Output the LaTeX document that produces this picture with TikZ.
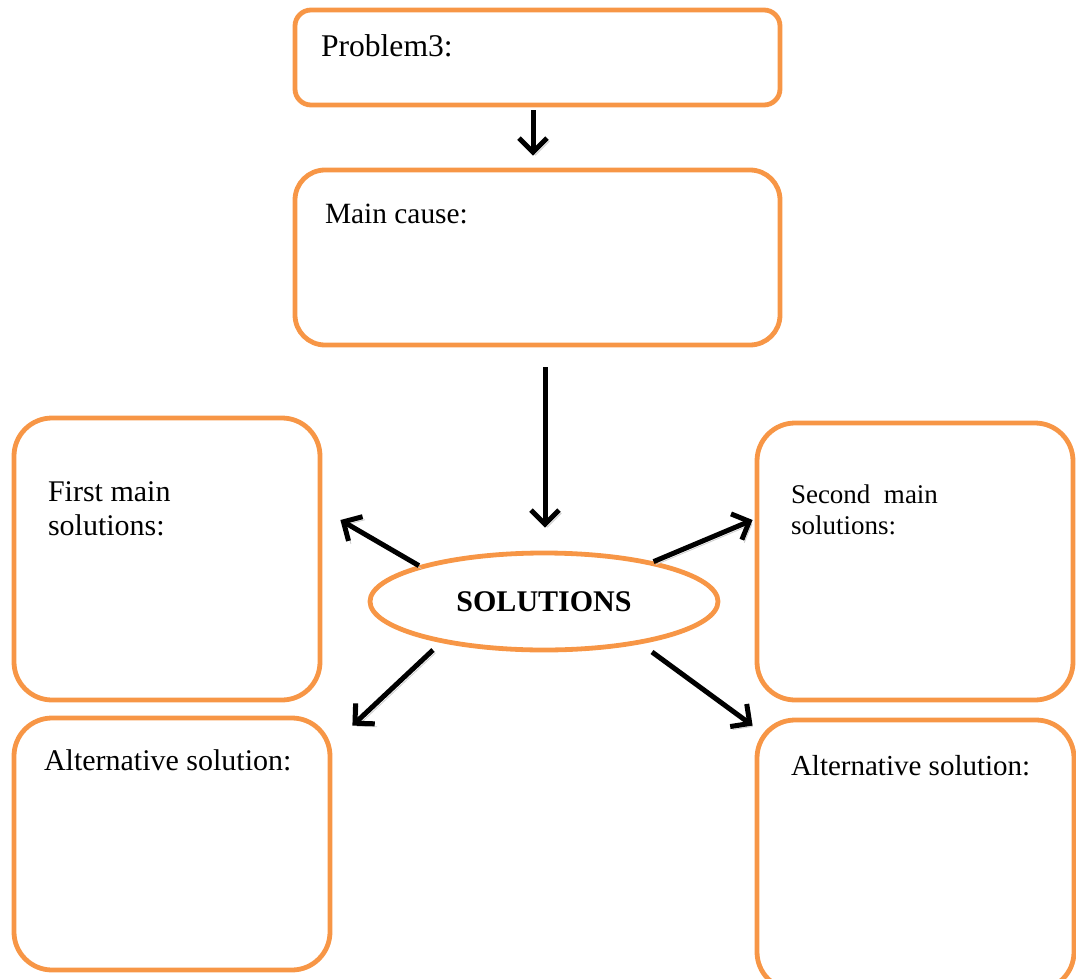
\documentclass[tikz,border=0pt]{standalone}
\usepackage{fontspec}
\setmainfont{Liberation Serif}
\usetikzlibrary{calc,arrows.meta,shapes.geometric}
\definecolor{sol-orange}{HTML}{F79646}

\tikzset{
    box/.style={draw=sol-orange, line width=2.4pt, inner sep=0pt},
    txt/.style={anchor=base west, inner sep=0pt, align=left,
        font=\fontsize{15}{17}\selectfont},
    arr/.style={-{Straight Barb[length=7pt,width=14pt]}, line width=2.5pt,
        preaction={draw=black!20, transform canvas={shift={(1.2pt,-1.5pt)}}}}
}

\begin{document}
\begin{tikzpicture}[x=0.5pt, y=-0.5pt]
    \useasboundingbox (0,0) rectangle (1076,979);
    \node[box, rounded corners=8pt, minimum width=242.5pt, minimum height=47.5pt] (prob) at (537.5,57.5) {};
    \node[box, rounded corners=15pt, minimum width=242.5pt, minimum height=87.5pt] (cause) at (537.5,257.5) {};
    \node[box, rounded corners=19pt, minimum width=153pt, minimum height=141pt] (first) at (167,559) {};
    \node[box, rounded corners=19pt, minimum width=158pt, minimum height=126pt] (altL) at (172,844) {};
    \node[box, rounded corners=19pt, minimum width=158pt, minimum height=138.5pt] (second) at (915,561.5) {};
    \node[box, rounded corners=19pt, minimum width=158.5pt, minimum height=135pt] (altR) at (915.5,855) {};
    \node[box, ellipse, minimum width=174pt, minimum height=48.5pt,
        font=\fontsize{15}{17}\selectfont\bfseries] (sol) at (544,601.5) {SOLUTIONS};

    \node[txt, font=\fontsize{15.8}{17}\selectfont] (probtxt) at ([shift={(28,49)}]prob.north west) {Problem3:};
    \node[txt, font=\fontsize{14.7}{17}\selectfont] (causetxt) at ([shift={(32,56)}]cause.north west) {Main cause:};
    \node[txt] (firsttxt) at ([shift={(36,120)}]first.north west) {First main\\solutions:};
    \node[txt] (altLtxt) at ([shift={(32,55)}]altL.north west) {Alternative solution:};
    \node[txt, font=\fontsize{13.5}{15.5}\selectfont] (secondtxt) at ([shift={(36,114)}]second.north west) {Second~~main\\solutions:};
    \node[txt, font=\fontsize{14.5}{17}\selectfont] (altRtxt) at ([shift={(36,58)}]altR.north west) {Alternative solution:};

    \draw[arr] ([shift={(-4.5,3)}]prob.south) -- ([shift={(-4.5,-12)}]cause.north);
    \draw[arr] ([shift={(7.5,20)}]cause.south) -- ([shift={(1,-23)}]sol.north);
    \draw[arr] (sol.164) -- ([shift={(18,-39)}]first.east);
    \draw[arr] (sol.20) -- ([shift={(-2,-41.5)}]second.west);
    \draw[arr] ([shift={(-111,48.5)}]sol.center) -- ([shift={(20,10)}]altL.north east);
    \draw[arr] ([shift={(108,50.5)}]sol.center) -- ([shift={(-2,8)}]altR.north west);
\end{tikzpicture}
\end{document}
